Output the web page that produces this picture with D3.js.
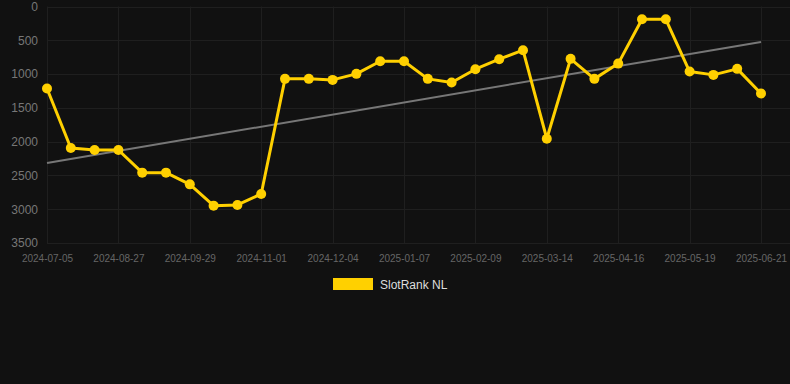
<!DOCTYPE html>
<html>
<head>
<meta charset="utf-8">
<script src="https://cdn.jsdelivr.net/npm/d3@7"></script>
<style>
  html, body { margin: 0; padding: 0; background: #111111; }
  svg { display: block; }
</style>
</head>
<body>
<svg id="chart" width="790" height="384"></svg>
<script>
// dates of each point (only every 3rd one is labelled)
const dates = [
  '2024-07-05', '2024-07-23', '2024-08-09', '2024-08-27', '2024-09-07', '2024-09-18',
  '2024-09-29', '2024-10-10', '2024-10-21', '2024-11-01', '2024-11-12', '2024-11-23',
  '2024-12-04', '2024-12-16', '2024-12-27', '2025-01-07', '2025-01-18', '2025-01-29',
  '2025-02-09', '2025-02-20', '2025-03-03', '2025-03-14', '2025-03-25', '2025-04-05',
  '2025-04-16', '2025-04-27', '2025-05-08', '2025-05-19', '2025-05-30', '2025-06-10',
  '2025-06-21'
];

// SlotRank NL rank values
const ranks = [
  1214, 2095, 2124, 2124, 2459, 2459, 2632, 2947, 2937, 2774, 1071,
  1071, 1086, 997, 810, 810, 1071, 1125, 928, 780, 647, 1957,
  775, 1071, 845, 189, 189, 963, 1012, 923, 1288
];

// trend line end points (first and last date)
const trend = [2316, 524];

const yTicks = [0, 500, 1000, 1500, 2000, 2500, 3000, 3500];
const seriesName = 'SlotRank NL';

const svg = d3.select('#chart');
const plotLeft = 47, plotRight = 761, plotTop = 6.5, plotBottom = 243;

const x = d3.scalePoint().domain(dates).range([plotLeft, plotRight]);
// ranks: 0 on top
const y = d3.scaleLinear().domain([0, 3500]).range([plotTop, plotBottom]);

// grid
const grid = svg.append('g');
grid.selectAll('line.h')
  .data(yTicks)
  .join('line')
  .attr('class', 'h')
  .attr('x1', plotLeft).attr('x2', 790)
  .attr('y1', d => Math.round(y(d)) + 0.5).attr('y2', d => Math.round(y(d)) + 0.5)
  .attr('stroke', '#1f1f1f').attr('stroke-width', 1);

const labelled = dates.filter((d, i) => i % 3 === 0);
grid.selectAll('line.v')
  .data(labelled)
  .join('line')
  .attr('class', 'v')
  .attr('x1', d => Math.round(x(d)) + 0.5).attr('x2', d => Math.round(x(d)) + 0.5)
  .attr('y1', plotTop).attr('y2', plotBottom)
  .attr('stroke', '#1f1f1f').attr('stroke-width', 1);

// y axis labels
const yAxis = svg.append('g')
  .attr('transform', `translate(${plotLeft - 9},0)`)
  .call(d3.axisLeft(y).tickValues(yTicks).tickFormat(d3.format('d')).tickSize(0).tickPadding(0));
yAxis.select('.domain').remove();
yAxis.selectAll('text')
  .attr('fill', '#777')
  .style('font-family', 'Liberation Sans, Arial, sans-serif')
  .style('font-size', '12px');

// x axis labels
const xAxis = svg.append('g')
  .attr('transform', `translate(0,${plotBottom})`)
  .call(d3.axisBottom(x).tickValues(labelled).tickSize(0).tickPadding(12));
xAxis.select('.domain').remove();
xAxis.selectAll('text')
  .attr('fill', '#666')
  .style('font-family', 'Liberation Sans, Arial, sans-serif')
  .style('font-size', '10px');

// trend line
svg.append('line')
  .attr('x1', x(dates[0])).attr('y1', y(trend[0]))
  .attr('x2', x(dates[dates.length - 1])).attr('y2', y(trend[1]))
  .attr('stroke', '#777').attr('stroke-width', 2);

// series line
const line = d3.line()
  .x((d, i) => x(dates[i]))
  .y(d => y(d));

svg.append('path')
  .datum(ranks)
  .attr('d', line)
  .attr('fill', 'none')
  .attr('stroke', '#FFD000')
  .attr('stroke-width', 3)
  .attr('stroke-linejoin', 'round');

svg.append('g')
  .selectAll('circle')
  .data(ranks)
  .join('circle')
  .attr('cx', (d, i) => x(dates[i]))
  .attr('cy', d => y(d))
  .attr('r', 5)
  .attr('fill', '#FFD000');

// legend
const legend = svg.append('g');
legend.append('rect')
  .attr('x', 333).attr('y', 278)
  .attr('width', 40).attr('height', 12)
  .attr('fill', '#FFD000');
legend.append('text')
  .attr('x', 380).attr('y', 288.5)
  .attr('fill', '#dddddd')
  .style('font-family', 'Liberation Sans, Arial, sans-serif')
  .style('font-size', '12px')
  .text(seriesName);
</script>
</body>
</html>
